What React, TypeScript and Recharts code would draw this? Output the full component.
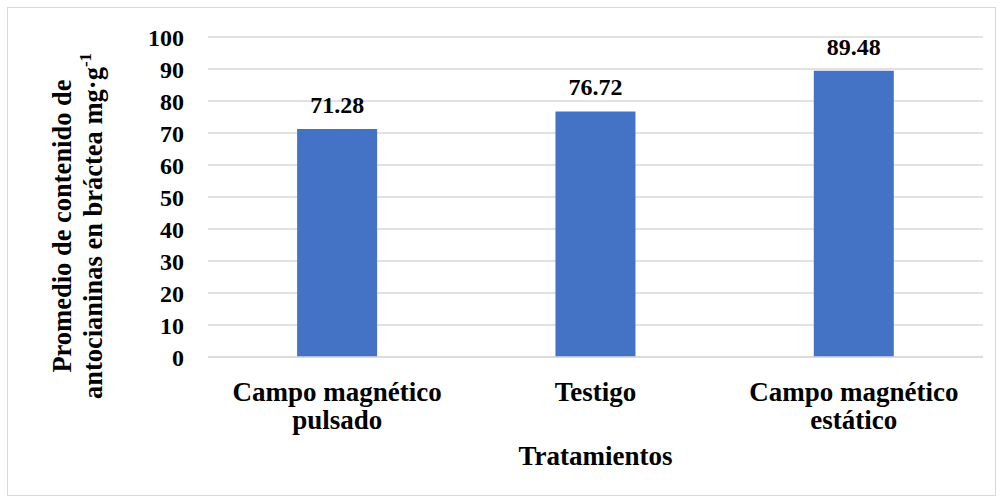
import { BarChart, Bar, XAxis, YAxis, CartesianGrid, LabelList } from "recharts";

// Antocianinas en bráctea por tratamiento

const categories = ["Campo magnético\npulsado", "Testigo", "Campo magnético\nestático"];
const values = [71.28, 76.72, 89.48];
const yTicks = [0, 10, 20, 30, 40, 50, 60, 70, 80, 90, 100];

const data = categories.map((name, i) => ({ name, value: values[i] }));

const FONT = "Liberation Serif, Times New Roman, serif";
const BLUE = "#4472C4";
const GRID = "#d9d9d9";

const txt = { fontFamily: FONT, fontWeight: 700, fill: "#000" };

type TickProps = { x?: number; y?: number; payload?: { value: string } };

function CategoryTick(props: TickProps) {
  const lines = String(props.payload?.value ?? "").split("\n");
  return (
    <text x={props.x} y={props.y} textAnchor="middle" style={{ ...txt, fontSize: 27 }}>
      {lines.map((ln, i) => (
        <tspan key={i} x={props.x} dy={i === 0 ? 36 : 28}>
          {ln}
        </tspan>
      ))}
    </text>
  );
}

function YTitle() {
  const cx = 77;
  const cy = 226;
  return (
    <text
      transform={`rotate(-90, ${cx}, ${cy})`}
      x={cx}
      y={cy}
      textAnchor="middle"
      style={{ ...txt, fontSize: 26.5 }}
    >
      <tspan x={cx} dy={-6}>
        Promedio de contenido de
      </tspan>
      <tspan x={cx} dy={31}>
        antocianinas en bráctea mg·g
        <tspan style={{ fontSize: 17 }} dy={-11}>
          -1
        </tspan>
      </tspan>
    </text>
  );
}

export default function App() {
  return (
    <div style={{ position: "absolute", left: 0, top: 0, width: 1003, height: 502, background: "#fff" }}>
      <div
        style={{
          position: "absolute",
          left: 7,
          top: 7,
          width: 987,
          height: 487,
          border: `1px solid ${GRID}`,
        }}
      />
      <BarChart
        width={1003}
        height={502}
        data={data}
        margin={{ top: 37, right: 20, bottom: 40, left: 138 }}
        barCategoryGap="34.5%"
        style={{ position: "absolute", left: 0, top: 0 }}
      >
        <CartesianGrid vertical={false} stroke={GRID} strokeWidth={1.5} />
        <XAxis
          dataKey="name"
          axisLine={{ stroke: GRID, strokeWidth: 1.5 }}
          tickLine={false}
          tick={<CategoryTick />}
          interval={0}
          height={105}
          label={{
            value: "Tratamientos",
            position: "insideBottom",
            offset: -3,
            style: { ...txt, fontSize: 27 },
          }}
        />
        <YAxis
          domain={[0, 100]}
          ticks={yTicks}
          interval={0}
          width={70}
          axisLine={false}
          tickLine={false}
          tickSize={0}
          tickMargin={24}
          tick={{ ...txt, fontSize: 24, style: { ...txt, fontSize: 24 } }}
          label={<YTitle />}
        />
        <Bar dataKey="value" fill={BLUE} isAnimationActive={false}>
          <LabelList
            dataKey="value"
            position="top"
            offset={16}
            formatter={(v: number) => v.toFixed(2)}
            style={{ ...txt, fontSize: 24 }}
          />
        </Bar>
      </BarChart>
    </div>
  );
}
